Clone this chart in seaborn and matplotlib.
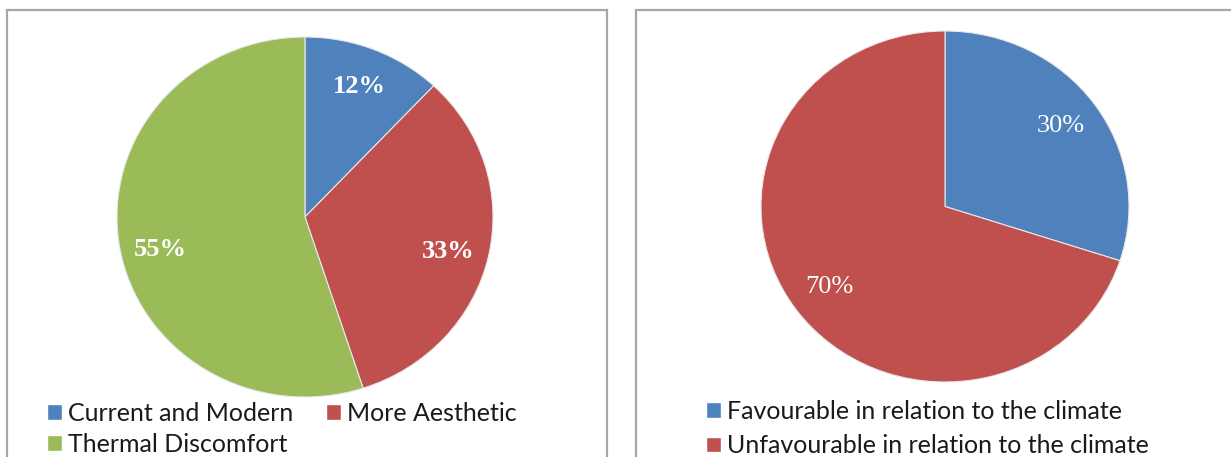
import matplotlib
matplotlib.use("Agg")
import matplotlib.pyplot as plt
from matplotlib.patches import Rectangle, Patch
import seaborn as sns

sns.set_theme(style="white")
plt.rcParams["font.family"] = ["Lato", "DejaVu Sans"]

# Reasons for the choice of material
reason_labels = ["Current and Modern", "More Aesthetic", "Thermal Discomfort"]
reason_values = [12, 33, 55]
reason_colors = ["#4F81BD", "#C0504D", "#9BBB59"]

# Opinion on suitability to the climate
climate_labels = ["Favourable in relation to the climate",
                  "Unfavourable in relation to the climate"]
climate_values = [30, 70]
climate_colors = ["#4F81BD", "#C0504D"]

W, H = 1231, 457
fig = plt.figure(figsize=(W / 100, H / 100), dpi=100)
fig.patch.set_facecolor("white")


def box(x0, y0, x1, y1):
    """Figure-fraction rectangle from pixel coordinates (top-left origin)."""
    return [x0 / W, 1 - y1 / H, (x1 - x0) / W, (y1 - y0) / H]


# Panel frames (open at the bottom / right edge of the figure)
for x0, x1 in [(7, 607), (636, 1260)]:
    fig.patches.append(Rectangle((x0 / W, -0.1), (x1 - x0) / W, 1.1 - 10 / H,
                                 transform=fig.transFigure, fill=False,
                                 edgecolor="#A6A6A6", linewidth=1.6, zorder=0))


def draw_pie(rect, values, colors, bold):
    ax = fig.add_axes(rect)
    wedges, _, autotexts = ax.pie(
        values, colors=colors, startangle=90, counterclock=False,
        autopct="%d%%", pctdistance=0.78,
        wedgeprops=dict(edgecolor="#E8E8E8", linewidth=0.8),
        textprops=dict(color="white", family="Liberation Serif",
                       fontsize=19,
                       fontweight="bold" if bold else "normal"),
    )
    ax.set_aspect("auto")
    ax.set_xlim(-1, 1)
    ax.set_ylim(-1, 1)
    ax.axis("off")
    return ax, autotexts


ax1, t1 = draw_pie(box(117, 37, 493, 397), reason_values, reason_colors, True)
ax2, t2 = draw_pie(box(761, 31, 1129, 382), climate_values, climate_colors, False)

# nudge the lower labels slightly down
x, y = t1[2].get_position()
t1[2].set_position((x, y - 0.06))
x, y = t1[1].get_position()
t1[1].set_position((x, y - 0.02))

legend_kw = dict(loc="upper left", frameon=False, fontsize=18,
                 handlelength=0.6, handleheight=0.6, handletextpad=0.25,
                 borderpad=0, borderaxespad=0, labelcolor="#1A1A1A")

# Left legend: two columns, row-major order
h1 = [Patch(facecolor=c) for c in reason_colors]
order = [0, 2, 1]
fig.legend([h1[i] for i in order], [reason_labels[i] for i in order],
           bbox_to_anchor=(47 / W, 1 - 402 / H), ncol=2,
           columnspacing=1.28, labelspacing=0.3, **legend_kw)

h2 = [Patch(facecolor=c) for c in climate_colors]
fig.legend(h2, climate_labels,
           bbox_to_anchor=(706 / W, 1 - 400 / H), ncol=1,
           labelspacing=0.45, **legend_kw)

fig.savefig("out.png", dpi=100, facecolor="white")
